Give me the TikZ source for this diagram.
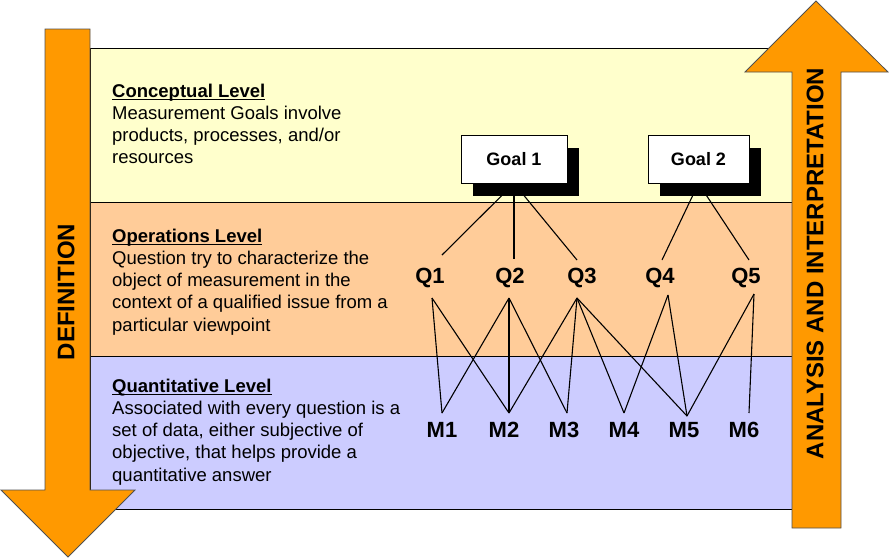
\documentclass[tikz,border=0pt]{standalone}
\usepackage{fontspec}
\setmainfont{Liberation Sans}
\usetikzlibrary{shadows}
\definecolor{arrowor}{HTML}{FF9900}
\definecolor{bandyel}{HTML}{FFFFCC}
\definecolor{bandora}{HTML}{FFCC99}
\definecolor{bandblu}{HTML}{CCCCFF}
\definecolor{arrline}{HTML}{505050}
\pgfdeclarelayer{back}
\pgfdeclarelayer{links}
\pgfsetlayers{back,links,main}
\newsavebox{\myulbox}
\newcommand{\myultitle}[1]{\sbox{\myulbox}{\textbf{#1}}\rlap{\rule[-2.8pt]{\wd\myulbox}{1.3pt}}\usebox{\myulbox}}
\begin{document}
\begin{tikzpicture}[x=1pt,y=-1pt,
  band/.style={draw=black,line width=0.8pt},
  bigarrow/.style={fill=arrowor,draw=arrline,line width=0.8pt},
  arrtext/.style={font=\fontsize{24}{28}\selectfont\bfseries,inner sep=0pt},
  body/.style={font=\fontsize{18.5}{22.3}\selectfont,anchor=base west,inner sep=0pt},
  goalbox/.style={draw=black,line width=0.8pt,fill=white,minimum width=#1,minimum height=48pt,
     font=\fontsize{18}{22}\selectfont\bfseries,inner sep=0pt,
     drop shadow={shadow xshift=12pt,shadow yshift=-13pt,fill=black,opacity=1}},
  lab/.style={font=\fontsize{22}{26}\selectfont\bfseries,inner sep=0pt},
  link/.style={line width=1.1pt,black}]
\useasboundingbox (0,0) rectangle (889,558);

% bands
\begin{pgfonlayer}{back}
\draw[band,fill=bandyel] (90,48) rectangle (816,202);
\draw[band,fill=bandora] (90,202) rectangle (816,356);
\draw[band,fill=bandblu] (90,356) rectangle (816,509);
\end{pgfonlayer}

% big arrows
\draw[bigarrow] (45,29) -- (90,29) -- (90,490) -- (135,490) -- (68,557) -- (1,490) -- (45,490) -- cycle;
\draw[bigarrow] (792,528) -- (841,528) -- (841,72) -- (888,72) -- (816,1) -- (745,72) -- (792,72) -- cycle;
\node[arrtext,rotate=90] (def) at (66,292) {DEFINITION};
\node[arrtext,rotate=90] (ana) at (815,263.5) {ANALYSIS AND INTERPRETATION};

% level texts
\node[body] (lev1) at (112,97) {\begin{tabular}[t]{@{}l@{}}\myultitle{Conceptual Level}\\
Measurement Goals involve\\ products, processes, and/or\\ resources\end{tabular}};
\node[body] (lev2) at (112,242) {\begin{tabular}[t]{@{}l@{}}\myultitle{Operations Level}\\
Question try to characterize the\\ object of measurement in the\\ context of a qualified issue from a\\ particular viewpoint\end{tabular}};
\node[body] (lev3) at (112,392) {\begin{tabular}[t]{@{}l@{}}\myultitle{Quantitative Level}\\
Associated with every question is a\\ set of data, either subjective of\\ objective, that helps provide a\\ quantitative answer\end{tabular}};

% goals
\node[goalbox=106pt] (g1) at (514,159) {Goal 1};
\node[goalbox=101pt] (g2) at (698.5,159) {Goal 2};

% questions
\node[lab] (q1) at (430,278) {Q1};
\node[lab] (q2) at (510,278) {Q2};
\node[lab] (q3) at (582,278) {Q3};
\node[lab] (q4) at (660,278) {Q4};
\node[lab] (q5) at (746,278) {Q5};

% metrics
\node[lab] (m1) at (442,430) {M1};
\node[lab] (m2) at (504,430) {M2};
\node[lab] (m3) at (564,430) {M3};
\node[lab] (m4) at (624,430) {M4};
\node[lab] (m5) at (684,430) {M5};
\node[lab] (m6) at (744,430) {M6};

% connection ports
\coordinate (q1t) at (442,255); \coordinate (q2t) at (514,259); \coordinate (q3t) at (577,260);
\coordinate (q4t) at (662,260); \coordinate (q5t) at (749,260);
\coordinate (q1b) at (432,298); \coordinate (q2b) at (509,298); \coordinate (q3b) at (577,298);
\coordinate (q4b) at (668,295); \coordinate (q5b) at (754,294);
\coordinate (m1t) at (442,413); \coordinate (m2t) at (509,413); \coordinate (m3t) at (567,413);
\coordinate (m4t) at (624,413); \coordinate (m5t) at (687,416); \coordinate (m6t) at (749,413);

\begin{pgfonlayer}{links}
\draw[link] (g1.south) -- (q1t);
\draw[link] (g1.south) -- (q2t);
\draw[link] (g1.south) -- (q3t);
\draw[link] (g2.south) -- (q4t);
\draw[link] (g2.south) -- (q5t);
\draw[link] (q1b) -- (m1t);
\draw[link] (q1b) -- (m2t);
\draw[link] (q2b) -- (m1t);
\draw[link] (q2b) -- (m2t);
\draw[link] (q2b) -- (m3t);
\draw[link] (q3b) -- (m2t);
\draw[link] (q3b) -- (m3t);
\draw[link] (q3b) -- (m4t);
\draw[link] (q3b) -- (m5t);
\draw[link] (q4b) -- (m4t);
\draw[link] (q4b) -- (m5t);
\draw[link] (q5b) -- (m5t);
\draw[link] (q5b) -- (m6t);
\end{pgfonlayer}
\end{tikzpicture}
\end{document}
